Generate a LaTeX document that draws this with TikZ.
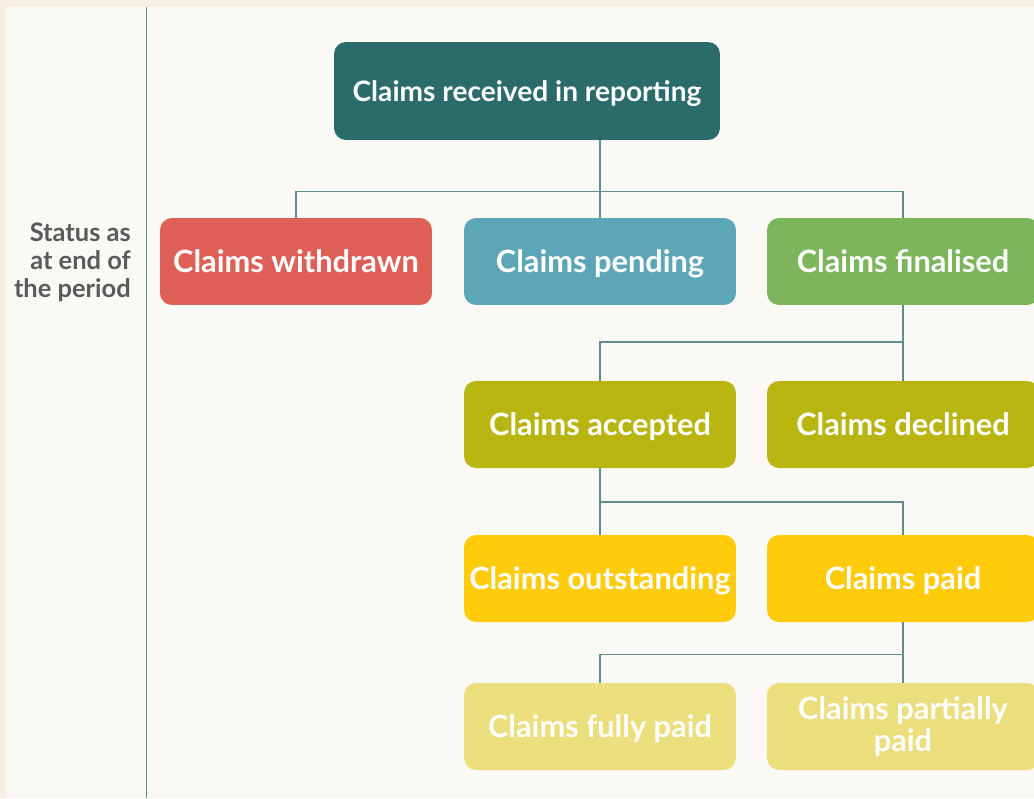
\documentclass[tikz,border=0pt]{standalone}
\usepackage{fontspec}
\setmainfont{Lato}
\usetikzlibrary{positioning}

\definecolor{pagebg}{HTML}{F6EFE3}
\definecolor{panelbg}{HTML}{FAF9F5}
\definecolor{linkcol}{HTML}{5E8F8F}
\definecolor{topcol}{HTML}{2B6B6B}
\definecolor{redcol}{HTML}{DE5F56}
\definecolor{bluecol}{HTML}{5DA6B8}
\definecolor{greencol}{HTML}{7CB55C}
\definecolor{olivecol}{HTML}{B8B511}
\definecolor{yellowcol}{HTML}{FFCB0A}
\definecolor{palecol}{HTML}{EBDE7C}
\definecolor{labelcol}{HTML}{5A5A5A}

\begin{document}
\begin{tikzpicture}[x=0.02cm,y=-0.02cm]
    \tikzset{box/.style = {rounded corners=0.24cm, minimum width=5.44cm, minimum height=1.74cm,
        inner sep=0pt, text=white, align=center, text height=12.6pt, text depth=0pt,
        font=\bfseries\fontsize{17.5}{18}\selectfont}}
    \tikzset{link/.style = {draw=linkcol, line width=0.9pt}}
    % background
    \useasboundingbox (0,0) rectangle (1034,798);
    \clip (0,0) rectangle (1034,798);
    \fill[pagebg] (0,0) rectangle (1034,798);
    \fill[panelbg] (6,7) rectangle (1034,798);
    \draw[linkcol, line width=1pt] (146.5,7) -- (146.5,798);
    \node[anchor=east, align=right, text=labelcol, font=\bfseries\fontsize{14.5}{16}\selectfont]
        (status) at (137,262) {Status as\\at end of\\the period};
    % boxes
    \node[box, fill=topcol, minimum width=7.72cm, minimum height=1.96cm, text height=11.5pt,
        font=\bfseries\fontsize{16}{18}\selectfont] (top) at (527,91) {Claims received in reporting};
    \node[box, fill=redcol] (withdrawn) at (296,261.5) {Claims withdrawn};
    \node[box, fill=bluecol] (pending) at (600,261.5) {Claims pending};
    \node[box, fill=greencol] (finalised) at (903,261.5) {Claims finalised};
    \node[box, fill=olivecol] (accepted) at (600,424.5) {Claims accepted};
    \node[box, fill=olivecol] (declined) at (903,424.5) {Claims declined};
    \node[box, fill=yellowcol] (outstanding) at (600,578.5) {Claims outstanding};
    \node[box, fill=yellowcol] (paid) at (903,578.5) {Claims paid};
    \node[box, fill=palecol] (fully) at (600,726.5) {Claims fully paid};
    \node[box, fill=palecol, text height={}, text depth={}] (partially) at (903,726.5) {Claims partially\\paid};
    % connectors
    \coordinate (bus1) at (0,191.5);
    \coordinate (bus2) at (0,342);
    \coordinate (bus3) at (0,502);
    \coordinate (bus4) at (0,654.5);
    \draw[link] (pending.north |- top.south) -- (pending.north);
    \draw[link] (withdrawn.north) |- (finalised.north |- bus1) -- (finalised.north);
    \draw[link] (finalised.south) -- (declined.north);
    \draw[link] (accepted.north) |- (declined.north |- bus2);
    \draw[link] (accepted.south) -- (outstanding.north);
    \draw[link] (accepted.south |- bus3) -| (paid.north);
    \draw[link] (paid.south) -- (partially.north);
    \draw[link] (fully.north) |- (partially.north |- bus4);
\end{tikzpicture}
\end{document}
